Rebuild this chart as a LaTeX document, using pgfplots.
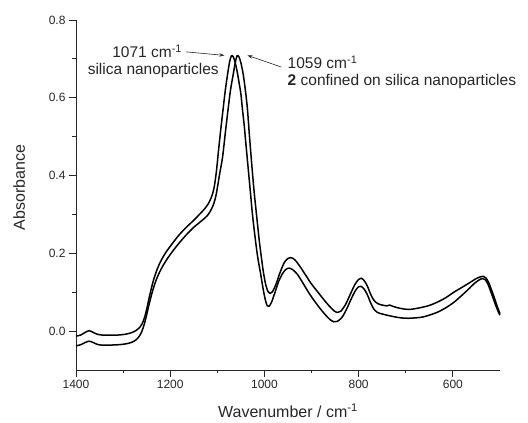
\documentclass[border=0pt]{standalone}
\usepackage{fontspec}
\setmainfont{Liberation Sans}
\usepackage{pgfplots}
\pgfplotsset{compat=1.18}
\usetikzlibrary{arrows.meta}
\pgfplotstableread{
w a
1400 -0.013
1390 -0.010
1380 -0.003
1372 0.001
1364 -0.003
1355 -0.008
1345 -0.010
1330 -0.0105
1310 -0.010
1295 -0.008
1282 -0.004
1272 0.002
1265 0.009
1260 0.018
1255 0.033
1250 0.056
1245 0.084
1240 0.110
1235 0.133
1228 0.158
1220 0.180
1210 0.201
1200 0.218
1190 0.234
1180 0.249
1165 0.268
1150 0.285
1138 0.300
1128 0.313
1120 0.326
1113 0.343
1107 0.368
1102 0.41
1098 0.458
1093 0.515
1088 0.568
1083 0.620
1078 0.662
1074 0.692
1070 0.708
1066 0.705
1062 0.690
1058 0.668
1054 0.640
1050 0.610
1047 0.574
1043 0.530
1040 0.490
1035 0.425
1030 0.360
1025 0.295
1019 0.233
1014 0.188
1008 0.147
1003 0.110
998 0.080
994 0.065
990 0.064
985 0.074
978 0.098
970 0.127
962 0.147
955 0.158
948 0.162
940 0.158
930 0.146
920 0.127
905 0.097
890 0.071
875 0.048
862 0.031
853 0.024
845 0.025
835 0.036
825 0.058
815 0.085
807 0.104
800 0.114
795 0.115
789 0.109
782 0.095
775 0.074
768 0.057
760 0.048
750 0.044
740 0.041
725 0.037
710 0.034
695 0.033
680 0.034
665 0.036
650 0.041
632 0.049
615 0.060
598 0.074
580 0.093
565 0.110
555 0.122
545 0.131
538 0.135
532 0.133
526 0.122
520 0.103
514 0.083
508 0.063
503 0.048
500 0.041
}\silica
\pgfplotstableread{
w a
1400 -0.038
1390 -0.035
1380 -0.029
1372 -0.026
1364 -0.029
1355 -0.034
1345 -0.036
1330 -0.036
1310 -0.035
1295 -0.033
1282 -0.029
1272 -0.022
1265 -0.012
1260 0.000
1255 0.018
1250 0.042
1245 0.068
1240 0.092
1235 0.113
1228 0.137
1220 0.158
1210 0.179
1200 0.197
1190 0.213
1180 0.228
1164 0.250
1150 0.267
1140 0.277
1132 0.285
1122 0.296
1115 0.308
1108 0.326
1103 0.348
1099 0.375
1095 0.405
1089 0.446
1083 0.510
1077 0.572
1072 0.620
1066 0.662
1062 0.690
1058 0.708
1054 0.705
1050 0.690
1045 0.660
1040 0.615
1036 0.570
1032 0.505
1027 0.430
1022 0.360
1016 0.290
1011 0.233
1006 0.185
1002 0.150
997 0.118
992 0.101
988 0.097
983 0.101
975 0.122
967 0.150
958 0.176
950 0.187
944 0.189
936 0.184
925 0.167
912 0.143
900 0.121
885 0.098
874 0.081
862 0.064
852 0.052
845 0.048
838 0.051
828 0.068
818 0.094
808 0.120
800 0.133
795 0.136
789 0.131
782 0.117
775 0.096
768 0.080
760 0.071
750 0.067
740 0.065
734 0.067
728 0.064
720 0.061
705 0.057
690 0.056
670 0.060
650 0.066
632 0.075
615 0.086
598 0.100
580 0.113
565 0.124
552 0.134
543 0.139
536 0.141
530 0.137
524 0.125
518 0.106
512 0.086
506 0.064
500 0.045
}\confined
\begin{document}
\begin{tikzpicture}
\begin{axis}[
  scale only axis, width=424pt, height=350pt,
  x dir=reverse, xmin=500, xmax=1400, ymin=-0.1, ymax=0.8,
  axis x line=bottom, axis y line=left,
  axis line style={-, line width=0.8pt, color=black!85},
  xtick={600,800,1000,1200,1400}, ytick={0,0.2,0.4,0.6,0.8},
  minor x tick num=1, minor y tick num=1,
  tick align=outside, major tick length=7pt, minor tick length=3.5pt,
  tick style={line width=0.8pt, black!85},
  /pgf/number format/assume math mode=true,
  tick label style={font=\fontsize{12}{14}\selectfont, text=black!85},
  xticklabel style={/pgf/number format/set thousands separator={}},
  yticklabel style={/pgf/number format/fixed, /pgf/number format/fixed zerofill, /pgf/number format/precision=1},
  xlabel={Wavenumber / cm\textsuperscript{-1}},
  ylabel={Absorbance},
  label style={font=\fontsize{16}{19}\selectfont, text=black!85},
  xlabel style={at={(axis description cs:0.5,-0.1371)}, anchor=base},
  ylabel style={at={(axis description cs:-0.1203,0.521)}, anchor=base, rotate=0},
  clip=false,
]
\addplot[smooth, line width=1.5pt, black] table[x=w, y=a] {\silica};
\addplot[smooth, line width=1.5pt, black] table[x=w, y=a] {\confined};
\node[anchor=base, font=\fontsize{15.5}{18}\selectfont, text=black!85, inner sep=0pt] at (axis cs:1249,0.7026) {1071 cm\textsuperscript{-1}};
\node[anchor=base, font=\fontsize{15.5}{18}\selectfont, text=black!85, inner sep=0pt] at (axis cs:1236,0.659) {silica nanoparticles};
\node[anchor=base west, font=\fontsize{15.5}{18}\selectfont, text=black!85, inner sep=0pt] at (axis cs:951,0.674) {1059 cm\textsuperscript{-1}};
\node[anchor=base west, font=\fontsize{15.5}{18}\selectfont, text=black!85, inner sep=0pt] at (axis cs:951,0.631) {\textbf{2} confined on silica nanoparticles};
\draw[-{Stealth[length=5pt,width=3.5pt]}, line width=0.6pt, black!85] (axis cs:1166,0.718) -- (axis cs:1085,0.709);
\draw[-{Stealth[length=5pt,width=3.5pt]}, line width=0.6pt, black!85] (axis cs:964,0.679) -- (axis cs:1036,0.709);
\end{axis}
\pgfresetboundingbox
\path[use as bounding box] (current axis.south west) ++(-76pt,-53pt) rectangle ++(528pt,423pt);
\end{tikzpicture}
\end{document}
